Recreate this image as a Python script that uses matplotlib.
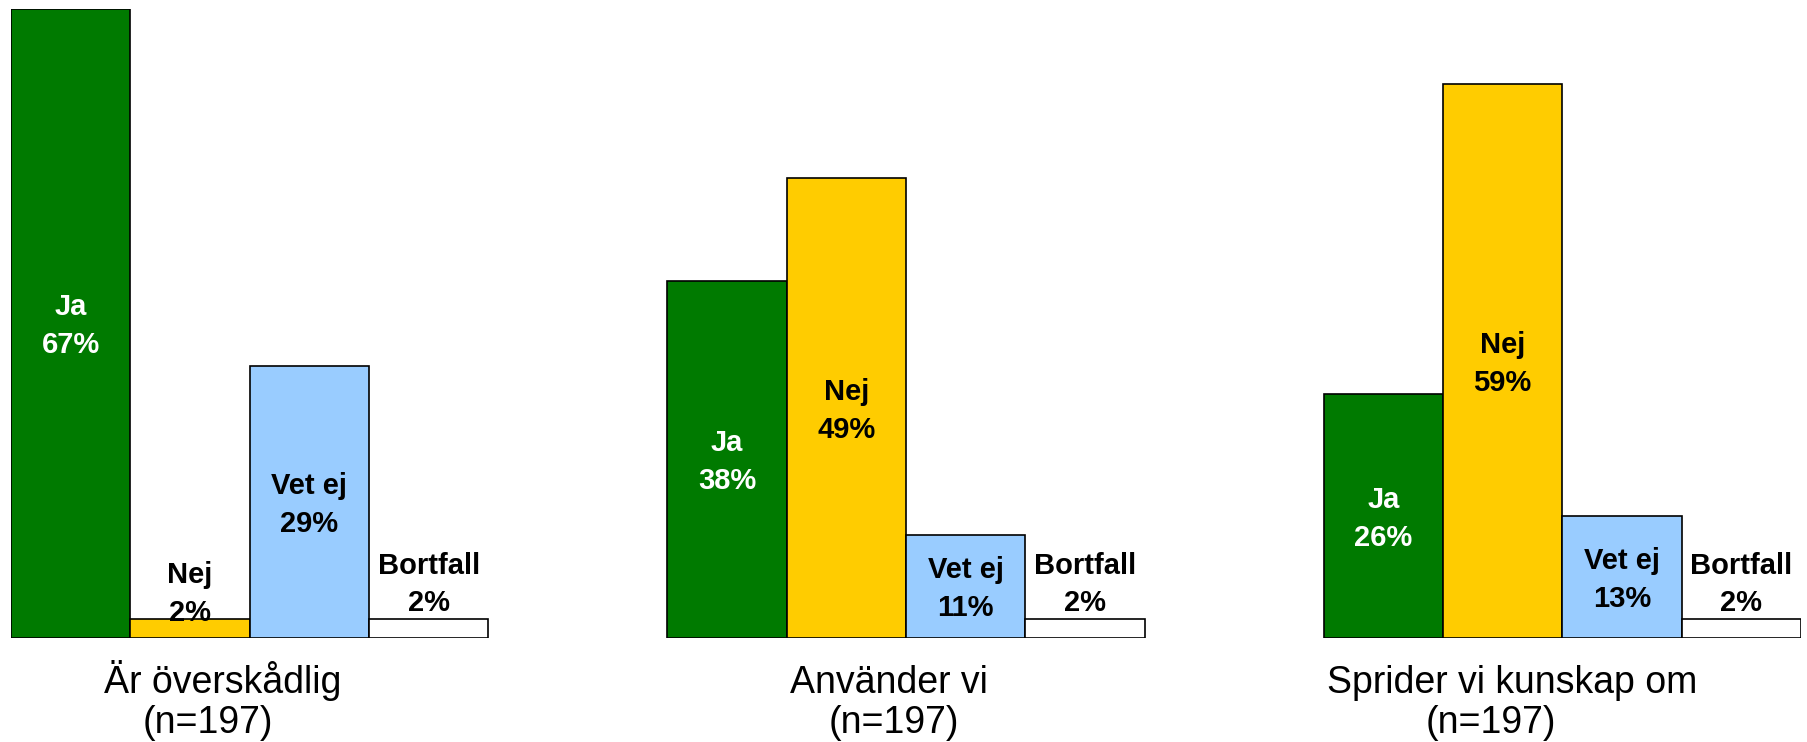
import matplotlib
matplotlib.use('Agg')
import matplotlib.pyplot as plt
import numpy as np

plt.rcParams['font.family'] = ['Liberation Sans', 'DejaVu Sans']

groups = ['Är överskådlig', 'Använder vi', 'Sprider vi kunskap om']
n_text = '(n=197)'
answers = ['Ja', 'Nej', 'Vet ej', 'Bortfall']
ja = [67, 38, 26]
nej = [2, 49, 59]
vet_ej = [29, 11, 13]
bortfall = [2, 2, 2]

colors = ['#007A00', '#FFCC00', '#99CCFF', '#FFFFFF']
text_colors = ['white', 'black', 'black', 'black']

fig = plt.figure(figsize=(18.08, 7.42), dpi=100)
ax = fig.add_axes([11 / 1808, 104 / 742, 1790 / 1808, 629 / 742])

group_start = np.array([0, 5.5, 11])
series = [ja, nej, vet_ej, bortfall]
for i, vals in enumerate(series):
    xs = group_start + i
    ax.bar(xs, vals, width=1.0, color=colors[i], edgecolor='black',
           linewidth=1.2, zorder=2)
    for x, v in zip(xs, vals):
        if v >= 10:
            y = v / 2 - 0.3
        elif answers[i] == 'Nej':
            y = v + 2.7
        else:
            y = v + 3.7
        ax.text(x, y, f'{answers[i]}\n{v}%', ha='center', va='center',
                fontsize=21, fontweight='bold', color=text_colors[i],
                linespacing=1.45, zorder=3)

# category labels under each group
line1_x = [1.27, 6.86, 12.08]
line2_x = [1.15, 6.90, 11.90]
for g, x1, x2 in zip(groups, line1_x, line2_x):
    ax.text(x1, -5.9, g, ha='center', va='baseline', fontsize=27)
    ax.text(x2, -10.1, n_text, ha='center', va='baseline', fontsize=27)

ax.set_xlim(-0.5, 14.5)
ax.set_ylim(0, 67)
ax.axis('off')

fig.savefig('out.png', dpi=100)
